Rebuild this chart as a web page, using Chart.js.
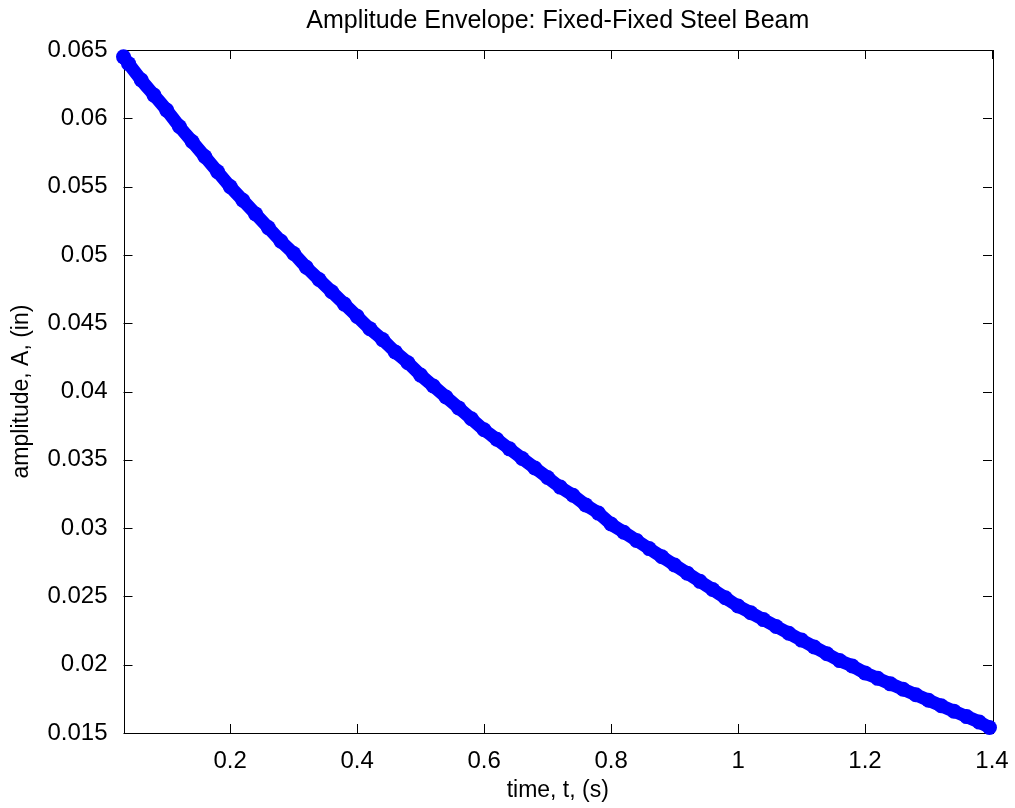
<!DOCTYPE html>
<html>
<head>
<meta charset="utf-8">
<script src="https://cdn.jsdelivr.net/npm/chart.js@4/dist/chart.umd.min.js"></script>
<style>
  body { margin: 0; background: #fff; }
  canvas { display: block; }
</style>
</head>
<body>
<canvas id="envChart" width="1015" height="808"></canvas>
<script>
// peak times (s) and amplitudes (in)
const times = [0.032, 0.04, 0.06, 0.08, 0.10, 0.12, 0.14, 0.16, 0.18, 0.20,
  0.22, 0.24, 0.26, 0.28, 0.30, 0.32, 0.34, 0.36, 0.38, 0.40,
  0.42, 0.44, 0.46, 0.48, 0.50, 0.52, 0.54, 0.56, 0.58, 0.60,
  0.62, 0.64, 0.66, 0.68, 0.70, 0.72, 0.74, 0.76, 0.78, 0.80,
  0.82, 0.84, 0.86, 0.88, 0.90, 0.92, 0.94, 0.96, 0.98, 1.00,
  1.02, 1.04, 1.06, 1.08, 1.10, 1.12, 1.14, 1.16, 1.18, 1.20,
  1.22, 1.24, 1.26, 1.28, 1.30, 1.32, 1.34, 1.36, 1.38, 1.396]
const amps = [0.0645, 0.0640, 0.0628, 0.0617, 0.0606, 0.0594, 0.0583, 0.0572, 0.0561, 0.0550,
  0.0540, 0.0530, 0.0520, 0.0510, 0.0501, 0.0491, 0.0482, 0.0473, 0.0464, 0.0455,
  0.0446, 0.0438, 0.0429, 0.0421, 0.0412, 0.0404, 0.0396, 0.0388, 0.0380, 0.0372,
  0.0365, 0.0358, 0.0351, 0.0344, 0.0337, 0.0330, 0.0324, 0.0317, 0.0311, 0.0303,
  0.0297, 0.0291, 0.0285, 0.0279, 0.0273, 0.0267, 0.0261, 0.0255, 0.0249, 0.0243,
  0.0238, 0.0233, 0.0228, 0.0223, 0.0218, 0.0213, 0.0208, 0.0203, 0.0199, 0.0194,
  0.0190, 0.0186, 0.0182, 0.0178, 0.0174, 0.0170, 0.0166, 0.0162, 0.0158, 0.0154]

const xTicks = [0.2, 0.4, 0.6, 0.8, 1, 1.2, 1.4]
const yTicks = [0.015, 0.02, 0.025, 0.03, 0.035, 0.04, 0.045, 0.05, 0.055, 0.06, 0.065]

const FONT = "'Liberation Sans', Arial, sans-serif"

// matlab style box with ticks pointing inwards
const boxPlugin = {
  id: 'box',
  beforeDatasetsDraw(chart) {
    const ctx = chart.ctx
    const a = chart.chartArea
    const xs = chart.scales.x, ys = chart.scales.y
    const len = 9
    ctx.save()
    ctx.strokeStyle = '#000'
    ctx.lineWidth = 1
    ctx.beginPath()
    xTicks.forEach(v => {
      const px = Math.round(xs.getPixelForValue(v)) + 0.5
      ctx.moveTo(px, a.bottom); ctx.lineTo(px, a.bottom - len)
      ctx.moveTo(px, a.top); ctx.lineTo(px, a.top + len)
    })
    yTicks.forEach(v => {
      const py = Math.round(ys.getPixelForValue(v)) + 0.5
      ctx.moveTo(a.left, py); ctx.lineTo(a.left + len, py)
      ctx.moveTo(a.right, py); ctx.lineTo(a.right - len, py)
    })
    ctx.stroke()
    ctx.strokeRect(Math.round(a.left) + 0.5, Math.round(a.top) + 0.5,
      Math.round(a.right - a.left), Math.round(a.bottom - a.top))
    ctx.restore()
  }
}

const ctx = document.getElementById('envChart').getContext('2d')
const envChart = new Chart(ctx, {
  type: 'line',
  data: {
    datasets: [{
      label: 'envelope',
      data: times.map((t, i) => ({ x: t, y: amps[i] })),
      borderColor: '#0000ff',
      backgroundColor: '#0000ff',
      borderWidth: 13,
      borderCapStyle: 'round',
      borderJoinStyle: 'round',
      cubicInterpolationMode: 'monotone',
      pointRadius: 7.5,
      pointBorderWidth: 0,
      pointBackgroundColor: '#0000ff',
      clip: false
    }]
  },
  options: {
    responsive: false,
    animation: false,
    layout: { padding: { left: 0, right: 23, top: 0, bottom: 0 } },
    plugins: {
      legend: { display: false },
      tooltip: { enabled: false },
      title: {
        display: true,
        fullSize: false,
        text: 'Amplitude Envelope: Fixed-Fixed Steel Beam',
        color: '#000',
        font: { family: FONT, size: 25, weight: 'normal' },
        padding: { top: 6, bottom: 14 }
      }
    },
    scales: {
      x: {
        type: 'linear',
        min: 0.032,
        max: 1.4,
        afterBuildTicks: s => { s.ticks = xTicks.map(v => ({ value: v })) },
        afterFit: s => { s.height = 75 },
        grid: { display: false },
        border: { display: false },
        ticks: {
          color: '#000',
          padding: 6,
          maxRotation: 0,
          font: { family: FONT, size: 24 },
          callback: v => String(v)
        },
        title: {
          display: true,
          text: 'time, t, (s)',
          color: '#000',
          font: { family: FONT, size: 23 },
          padding: { top: 0, bottom: 4 }
        }
      },
      y: {
        type: 'linear',
        min: 0.015,
        max: 0.065,
        afterBuildTicks: s => { s.ticks = yTicks.map(v => ({ value: v })) },
        afterFit: s => { s.width = 123.5 },
        grid: { display: false },
        border: { display: false },
        ticks: {
          color: '#000',
          padding: 8,
          font: { family: FONT, size: 24 },
          callback: v => String(v)
        },
        title: {
          display: true,
          text: 'amplitude, A, (in)',
          color: '#000',
          font: { family: FONT, size: 23 },
          padding: { top: 8, bottom: 0 }
        }
      }
    }
  },
  plugins: [boxPlugin]
})
</script>
</body>
</html>
